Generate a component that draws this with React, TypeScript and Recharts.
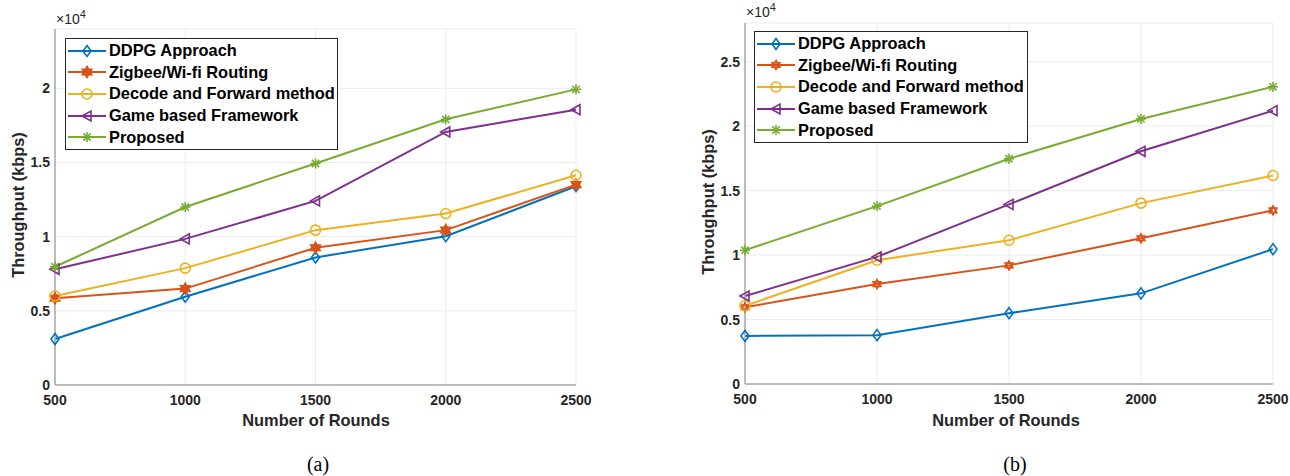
import React from 'react';
import { LineChart, Line, XAxis, YAxis, CartesianGrid, Legend } from 'recharts';

const rounds = [500, 1000, 1500, 2000, 2500];

// panel (a) throughput, kbps
const ddpgA = [3100, 5950, 8600, 10030, 13400];
const zigbeeA = [5850, 6500, 9250, 10440, 13510];
const decodeA = [6000, 7880, 10440, 11560, 14140];
const gameA = [7800, 9850, 12410, 17060, 18560];
const proposedA = [7970, 12000, 14930, 17910, 19930];

// panel (b) throughput, kbps
const ddpgB = [3730, 3790, 5490, 7030, 10460];
const zigbeeB = [5950, 7750, 9200, 11300, 13470];
const decodeB = [6070, 9600, 11150, 14030, 16170];
const gameB = [6820, 9860, 13930, 18050, 21200];
const proposedB = [10380, 13800, 17470, 20560, 23050];

const seriesNames = ['DDPG Approach', 'Zigbee/Wi-fi Routing', 'Decode and Forward method', 'Game based Framework', 'Proposed'];
const seriesColors = ['#0072BD', '#D95319', '#EDB120', '#7E2F8E', '#77AC30'];
const seriesMarkers = ['diamond', 'hexagram', 'circle', 'triangleLeft', 'asterisk'];

const yTicksA = [0, 5000, 10000, 15000, 20000];
const yTicksB = [0, 5000, 10000, 15000, 20000, 25000];

const FONT = '"Liberation Sans", Arial, sans-serif';
const AXIS_COLOR = '#a8a8a8';
const TEXT_COLOR = '#262626';

function buildRows(series: number[][]) {
  return rounds.map((r, i) => {
    const row: any = { rounds: r };
    series.forEach((s, k) => (row['s' + k] = s[i]));
    return row;
  });
}

function Marker({ shape, color, x, y, filled }: { shape: string; color: string; x: number; y: number; filled?: boolean }) {
  const sw = 1.6;
  if (shape === 'diamond') {
    return <polygon points={`${x},${y - 5.5} ${x + 4},${y} ${x},${y + 5.5} ${x - 4},${y}`} fill="none" stroke={color} strokeWidth={sw} />;
  }
  if (shape === 'hexagram') {
    const r = filled ? 5.5 : 4.5;
    const tri = (rot: number) =>
      [0, 1, 2]
        .map(j => {
          const a = rot + (j * 2 * Math.PI) / 3;
          return `${x + r * Math.sin(a)},${y - r * Math.cos(a)}`;
        })
        .join(' ');
    return (
      <g>
        <polygon points={tri(0)} fill={filled ? color : 'none'} stroke={color} strokeWidth={sw} />
        <polygon points={tri(Math.PI)} fill={filled ? color : 'none'} stroke={color} strokeWidth={sw} />
      </g>
    );
  }
  if (shape === 'circle') {
    return <circle cx={x} cy={y} r={5} fill="none" stroke={color} strokeWidth={sw} />;
  }
  if (shape === 'triangleLeft') {
    return <polygon points={`${x - 5},${y} ${x + 4},${y - 5} ${x + 4},${y + 5}`} fill="none" stroke={color} strokeWidth={sw} />;
  }
  // asterisk
  const r = 5;
  const d = r * 0.72;
  return (
    <g stroke={color} strokeWidth={sw}>
      <line x1={x - r} y1={y} x2={x + r} y2={y} />
      <line x1={x} y1={y - r} x2={x} y2={y + r} />
      <line x1={x - d} y1={y - d} x2={x + d} y2={y + d} />
      <line x1={x - d} y1={y + d} x2={x + d} y2={y - d} />
    </g>
  );
}

interface PanelProps {
  series: number[][];
  yMax: number;
  yTicks: number[];
  left: number;
  margin: { top: number; right: number; bottom: number; left: number };
  filledStar: boolean;
  legendPos: { left: number; top: number };
  legendWidth: number;
  yTitle: { x: number; y: number };
  xTitle: { x: number; y: number };
  exponent: { x: number; y: number };
  caption: { x: number; y: number; text: string };
}

function Panel(p: PanelProps) {
  const data = buildRows(p.series);
  const tickStyle = { fontSize: 14, fontWeight: 700, fill: TEXT_COLOR, fontFamily: FONT };

  const legendContent = () => (
    <div
      style={{
        width: p.legendWidth,
        boxSizing: 'border-box',
        border: '1px solid #262626',
        background: '#fff',
        padding: '1px 3px 1px 2px',
        fontFamily: FONT,
        fontWeight: 700,
        fontSize: 16.4,
        color: '#000',
      }}
    >
      {seriesNames.map((name, i) => (
        <div key={name} style={{ display: 'flex', alignItems: 'center', height: 21.6 }}>
          <svg width={38} height={20} style={{ flex: 'none' }}>
            <line x1={0} y1={10} x2={38} y2={10} stroke={seriesColors[i]} strokeWidth={2} />
            <Marker shape={seriesMarkers[i]} color={seriesColors[i]} x={19} y={10} filled={p.filledStar} />
          </svg>
          <span style={{ marginLeft: 3, whiteSpace: 'nowrap' }}>{name}</span>
        </div>
      ))}
    </div>
  );

  return (
    <>
      <div style={{ position: 'absolute', left: p.left, top: 0 }}>
        <LineChart width={600} height={440} data={data} margin={p.margin}>
          <CartesianGrid stroke="#ececec" strokeWidth={1} />
          <XAxis
            dataKey="rounds"
            type="number"
            domain={[500, 2500]}
            ticks={rounds}
            tick={tickStyle}
            tickLine={false}
            tickSize={6}
            tickMargin={4}
            height={30}
            axisLine={{ stroke: AXIS_COLOR, strokeWidth: 1.5 }}
          />
          <XAxis
            xAxisId="top"
            orientation="top"
            dataKey="rounds"
            type="number"
            domain={[500, 2500]}
            ticks={rounds}
            tick={false}
            tickLine={false}
            height={0}
            axisLine={{ stroke: AXIS_COLOR, strokeWidth: 1.5 }}
          />
          <YAxis
            type="number"
            domain={[0, p.yMax]}
            ticks={p.yTicks}
            tickFormatter={(v: number) => String(v / 10000)}
            tick={tickStyle}
            tickLine={false}
            tickSize={5}
            tickMargin={0}
            width={50}
            axisLine={{ stroke: AXIS_COLOR, strokeWidth: 1.5 }}
          />
          <YAxis
            yAxisId="right"
            orientation="right"
            type="number"
            domain={[0, p.yMax]}
            ticks={p.yTicks}
            tick={false}
            tickLine={false}
            width={0}
            axisLine={{ stroke: AXIS_COLOR, strokeWidth: 1.5 }}
          />
          <Legend
            layout="vertical"
            align="center"
            verticalAlign="middle"
            content={legendContent}
            wrapperStyle={{ left: p.legendPos.left, top: p.legendPos.top, width: 'auto', height: 'auto' }}
          />
          {seriesNames.map((name, i) => (
            <Line
              key={name}
              type="linear"
              dataKey={'s' + i}
              name={name}
              stroke={seriesColors[i]}
              strokeWidth={2}
              isAnimationActive={false}
              dot={(d: any) => (
                <g key={`dot-${i}-${d.index}`}>
                  <Marker shape={seriesMarkers[i]} color={seriesColors[i]} x={d.cx} y={d.cy} filled={p.filledStar} />
                </g>
              )}
              activeDot={false}
            />
          ))}
        </LineChart>
      </div>
      <div
        style={{
          position: 'absolute',
          left: p.yTitle.x,
          top: p.yTitle.y,
          transform: 'translate(-50%, -50%) rotate(-90deg)',
          fontFamily: FONT,
          fontWeight: 700,
          fontSize: 16.4,
          color: TEXT_COLOR,
          whiteSpace: 'nowrap',
        }}
      >
        Throughput (kbps)
      </div>
      <div
        style={{
          position: 'absolute',
          left: p.xTitle.x,
          top: p.xTitle.y,
          transform: 'translate(-50%, -50%)',
          fontFamily: FONT,
          fontWeight: 700,
          fontSize: 16.4,
          color: TEXT_COLOR,
          whiteSpace: 'nowrap',
        }}
      >
        Number of Rounds
      </div>
      <div
        style={{
          position: 'absolute',
          left: p.exponent.x,
          top: p.exponent.y,
          fontFamily: FONT,
          fontSize: 14,
          color: TEXT_COLOR,
          whiteSpace: 'nowrap',
          lineHeight: '16px',
        }}
      >
        ×10<sup style={{ fontSize: 11, verticalAlign: 6, lineHeight: 0 }}>4</sup>
      </div>
      <div
        style={{
          position: 'absolute',
          left: p.caption.x,
          top: p.caption.y,
          transform: 'translate(-50%, -50%)',
          fontFamily: '"Liberation Serif", "Times New Roman", serif',
          fontSize: 20,
          color: '#000',
        }}
      >
        {p.caption.text}
      </div>
    </>
  );
}

export default function App() {
  return (
    <div style={{ position: 'absolute', left: 0, top: 0, width: 1290, height: 476, background: '#fff', overflow: 'hidden' }}>
      <Panel
        series={[ddpgA, zigbeeA, decodeA, gameA, proposedA]}
        yMax={24000}
        yTicks={yTicksA}
        left={0}
        margin={{ top: 29, right: 24, bottom: 25, left: 5 }}
        filledStar={true}
        legendPos={{ left: 65, top: 38 }}
        legendWidth={273}
        yTitle={{ x: 18, y: 205 }}
        xTitle={{ x: 316, y: 420 }}
        exponent={{ x: 56, y: 11 }}
        caption={{ x: 318, y: 464, text: '(a)' }}
      />
      <Panel
        series={[ddpgB, zigbeeB, decodeB, gameB, proposedB]}
        yMax={28000}
        yTicks={yTicksB}
        left={690}
        margin={{ top: 23, right: 17, bottom: 26, left: 5 }}
        filledStar={false}
        legendPos={{ left: 64, top: 31 }}
        legendWidth={274}
        yTitle={{ x: 708, y: 202 }}
        xTitle={{ x: 1006, y: 420 }}
        exponent={{ x: 746, y: 4 }}
        caption={{ x: 1015, y: 464, text: '(b)' }}
      />
    </div>
  );
}
